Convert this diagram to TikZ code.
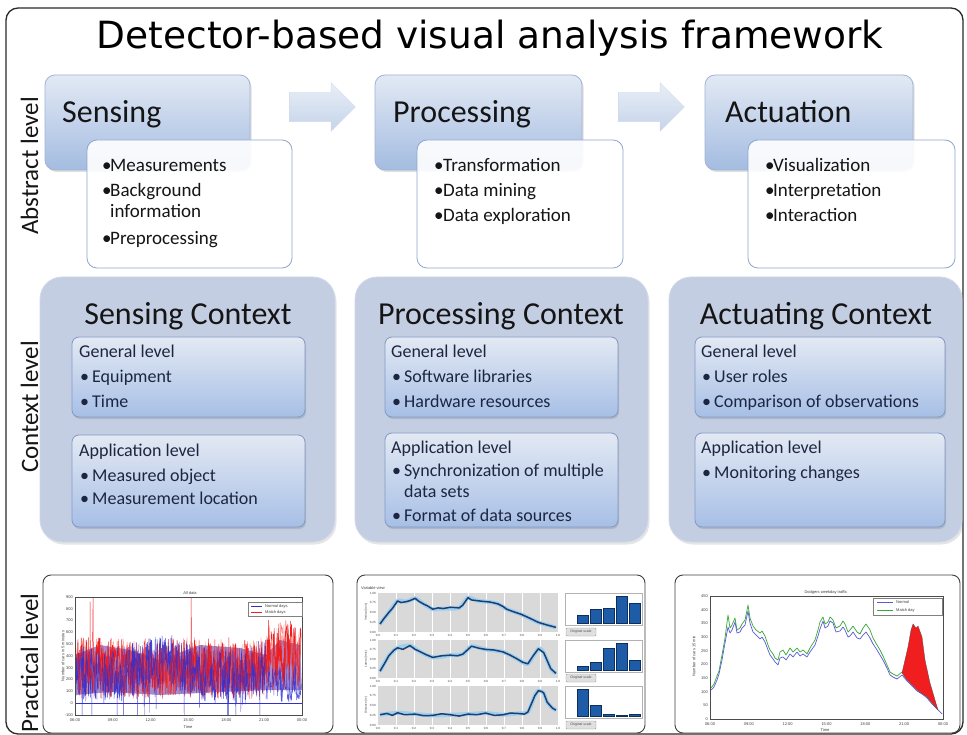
\documentclass[tikz,border=0pt]{standalone}
\usepackage{fontspec}
\setmainfont{Carlito}
\newfontfamily\plotfont{Liberation Sans}
\newfontfamily\titlefont{DejaVu Sans}
\usetikzlibrary{shapes.arrows,fit,shadows,calc}
\definecolor{absTop}{HTML}{E2E9F4}
\definecolor{absBot}{HTML}{A4BCE1}
\definecolor{absBorder}{HTML}{A2B5D4}
\definecolor{bulBorder}{HTML}{8FA7CE}
\definecolor{arrTop}{HTML}{E8EEF6}
\definecolor{arrBot}{HTML}{C5D4EA}
\definecolor{arrBorder}{HTML}{D0DBEB}
\definecolor{ctxFill}{HTML}{C4CEE3}
\definecolor{ctxBorder}{HTML}{D2D9E8}
\definecolor{subTop}{HTML}{E3E9F3}
\definecolor{subBot}{HTML}{A7BFE6}
\definecolor{subBorder}{HTML}{8199C2}
\definecolor{txtDark}{HTML}{151515}
\definecolor{txtNavy}{HTML}{1C2640}
\definecolor{frameCol}{HTML}{2A2A2A}
\definecolor{plotBlue}{HTML}{3030D0}
\definecolor{plotRed}{HTML}{F01E1E}
\definecolor{plotGreen}{HTML}{3AA63A}
\definecolor{panelGray}{HTML}{D9D9D9}
\definecolor{lineNavy}{HTML}{1E3F6E}
\definecolor{haloBlue}{HTML}{9CCFF0}
\definecolor{barBlue}{HTML}{1F5CA8}
\definecolor{barEdge}{HTML}{0E2E5C}
\tikzset{
  outerframe/.style={draw=frameCol, line width=1.3pt, rounded corners=12pt, fill=white, inner sep=0pt},
  absbox/.style={draw=absBorder, line width=0.8pt, rounded corners=10pt, top color=absTop, bottom color=absBot, inner sep=0pt,
     drop shadow={opacity=0.25, shadow xshift=1.5pt, shadow yshift=-2pt}},
  bulbox/.style={draw=bulBorder, line width=0.8pt, rounded corners=10pt, fill=white, fill opacity=0.9, inner sep=0pt},
  blockarrow/.style={single arrow, minimum height=66pt, inner xsep=0pt, inner ysep=14.5pt, single arrow head extend=9.5pt,
     top color=arrTop, bottom color=arrBot, draw=arrBorder, line width=0.4pt},
  ctxbox/.style={fill=ctxFill, draw=ctxBorder, line width=0.8pt, rounded corners=22pt, inner sep=0pt,
     drop shadow={opacity=0.2, shadow xshift=1.5pt, shadow yshift=-2.5pt}},
  subbox/.style={draw=subBorder, line width=0.8pt, rounded corners=7pt, top color=subTop, bottom color=subBot, inner sep=0pt,
     drop shadow={opacity=0.3, shadow xshift=1pt, shadow yshift=-2pt}},
  plotframe/.style={draw=black!75, line width=0.9pt, rounded corners=8pt, fill=white, inner sep=0pt},
  abstitle/.style={anchor=base west, inner sep=0pt, text=txtDark, font=\fontsize{32}{32}\selectfont},
  ctxtitle/.style={anchor=base, inner sep=0pt, text=txtDark, font=\fontsize{32}{32}\selectfont},
  bult/.style={anchor=base west, inner sep=0pt, text=txtDark, font=\fontsize{19}{19}\selectfont},
  subt/.style={anchor=base west, inner sep=0pt, text=txtNavy, font=\fontsize{18}{18}\selectfont},
  levellabel/.style={rotate=90, anchor=base, inner sep=0pt, text=txtDark, font=\fontsize{25}{25}\selectfont},
  ptext/.style={inner sep=0pt, text=black!75, font=\plotfont\fontsize{4}{4}\selectfont},
  ptiny/.style={inner sep=0pt, text=black!75, font=\plotfont\fontsize{3}{3}\selectfont},
  btn/.style={draw=black!40, fill=black!12, rounded corners=1pt, inner sep=0pt, minimum width=30pt, minimum height=8pt, text=black!70, font=\plotfont\fontsize{3.5}{3.5}\selectfont},
  halo/.style={haloBlue, line width=4pt, line join=round},
  navyline/.style={lineNavy, line width=1.5pt, line join=round},
  bar/.style={fill=barBlue, draw=barEdge, line width=0.3pt}
}
\begin{document}
\begin{tikzpicture}[x=1pt,y=-1pt]
\useasboundingbox (0,0) rectangle (967,735);
\pgfmathsetseed{11}
% outer frame
\node[outerframe, fit={(6,8)(963,734)}] (frame) {};
\node[anchor=base, inner sep=0pt, text=black, font=\titlefont\fontsize{37.5}{37.5}\selectfont] (title) at (490,49) {Detector-based visual analysis framework};
% level labels
\node[levellabel] (labA) at (38,166) {Abstract level};
\node[levellabel] (labC) at (38,407) {Context level};
\node[levellabel] (labP) at (38,663) {Practical level};

% ---------- abstract level ----------
\node[blockarrow] (arr1) at (315,107) {};
\node[blockarrow] (arr2) at (644,107) {};

\node[absbox, fit={(45,75)(250,170)}] (sens) {};
\node[abstitle] (sensT) at (62,123) {Sensing};
\node[bulbox, fit={(87,140)(292,268)}] (sensL) {};
\node[bult] (sb1) at (102,172) {•};
\node[bult] (st1) at (110,172) {Measurements};
\node[bult] (sb2) at (102,197) {•};
\node[bult] (st2) at (110,197) {Background};
\node[bult] (st3) at (110,218) {information};
\node[bult] (sb4) at (102,245) {•};
\node[bult] (st4) at (110,245) {Preprocessing};

\node[absbox, fit={(375,75)(582,170)}] (proc) {};
\node[abstitle] (procT) at (393,123) {Processing};
\node[bulbox, fit={(417,140)(623,268)}] (procL) {};
\node[bult] (pb1) at (434,172) {•};
\node[bult] (pt1) at (443,172) {Transformation};
\node[bult] (pb2) at (434,197) {•};
\node[bult] (pt2) at (443,197) {Data mining};
\node[bult] (pb3) at (434,222) {•};
\node[bult] (pt3) at (443,222) {Data exploration};

\node[absbox, fit={(705,75)(913,170)}] (act) {};
\node[abstitle] (actT) at (725,123) {Actuation};
\node[bulbox, fit={(748,140)(955,268)}] (actL) {};
\node[bult] (ab1) at (765,172) {•};
\node[bult] (at1) at (773,172) {Visualization};
\node[bult] (ab2) at (765,197) {•};
\node[bult] (at2) at (773,197) {Interpretation};
\node[bult] (ab3) at (765,222) {•};
\node[bult] (at3) at (773,222) {Interaction};

% ---------- context level ----------
\node[ctxbox, fit={(40,277)(335,542)}] (sctx) {};
\node[ctxtitle] (sctxT) at (188,325) {Sensing Context};
\node[subbox, fit={(72,337)(305,417)}] (sgen) {};
\node[subt] (sgT) at (79,358) {General level};
\node[subt] (sg1b) at (80,383) {•};
\node[subt] (sg1) at (92,383) {Equipment};
\node[subt] (sg2b) at (80,407) {•};
\node[subt] (sg2) at (92,407) {Time};
\node[subbox, fit={(72,435)(305,527)}] (sapp) {};
\node[subt] (saT) at (79,456) {Application level};
\node[subt] (sa1b) at (80,481) {•};
\node[subt] (sa1) at (92,481) {Measured object};
\node[subt] (sa2b) at (80,504) {•};
\node[subt] (sa2) at (92,504) {Measurement location};

\node[ctxbox, fit={(355,277)(648,542)}] (pctx) {};
\node[ctxtitle] (pctxT) at (501,325) {Processing Context};
\node[subbox, fit={(385,337)(618,417)}] (pgen) {};
\node[subt] (pgT) at (391,358) {General level};
\node[subt] (pg1b) at (392,382) {•};
\node[subt] (pg1) at (404,382) {Software libraries};
\node[subt] (pg2b) at (392,407) {•};
\node[subt] (pg2) at (404,407) {Hardware resources};
\node[subbox, fit={(385,433)(618,527)}] (papp) {};
\node[subt] (paT) at (391,453) {Application level};
\node[subt] (pa1b) at (392,476) {•};
\node[subt] (pa1) at (404,476) {Synchronization of multiple};
\node[subt] (pa2) at (404,497) {data sets};
\node[subt] (pa3b) at (392,521) {•};
\node[subt] (pa3) at (404,521) {Format of data sources};

\node[ctxbox, fit={(669,277)(962,542)}] (actx) {};
\node[ctxtitle] (actxT) at (816,325) {Actuating Context};
\node[subbox, fit={(695,337)(945,417)}] (agen) {};
\node[subt] (agT) at (701,358) {General level};
\node[subt] (ag1b) at (702,382) {•};
\node[subt] (ag1) at (714,382) {User roles};
\node[subt] (ag2b) at (702,407) {•};
\node[subt] (ag2) at (714,407) {Comparison of observations};
\node[subbox, fit={(695,433)(945,527)}] (aapp) {};
\node[subt] (aaT) at (701,453) {Application level};
\node[subt] (aa1b) at (702,478) {•};
\node[subt] (aa1) at (714,478) {Monitoring changes};

% ---------- practical level ----------
% plot 1
\node[plotframe, fit={(43,575)(333,733)}] (p1) {};
\node[ptext] (p1t) at (190,593) {All data};
\begin{scope}
\clip (75,597) rectangle (302,715);
\fill[plotBlue!75!plotRed, opacity=0.55] (75,655) -- (100,645) -- (130,650) -- (160,660) -- (200,645) -- (240,648) -- (266,655)
   -- (280,640) -- (300,645) -- (302,690) -- (266,690) -- (220,692) -- (160,695) -- (110,692) -- (75,695) -- cycle;
\draw[plotBlue, line width=0.5pt] (75,703) -- (302,703);
\draw[plotRed, line width=0.35pt] plot[domain=76:301, samples=800]
  (\x, {(\x<266)*(668+62*(rnd-0.5)-60*(rnd<0.008)) + (\x>=266)*(655+72*(rnd-0.5))});
\draw[plotBlue, line width=0.35pt, opacity=0.9] plot[domain=76:266, samples=800]
  (\x, {670+7*sin((\x-75)*3)+56*(rnd-0.5)+32*(rnd<0.04)});
\draw[plotBlue, line width=0.35pt, opacity=0.8] plot[domain=266:301, samples=90]
  (\x, {682+40*(rnd-0.5)});
\draw[plotRed, line width=0.3pt, opacity=0.6] plot[domain=76:301, samples=450]
  (\x, {(\x<266)*(668+55*(rnd-0.5)) + (\x>=266)*(652+60*(rnd-0.5))});
\end{scope}
\draw[black!70, line width=0.4pt] (75,597) rectangle (302,715);
\foreach \v [count=\k from 0] in {900,800,700,600,500,400,300,200,100,0,-100}
  \node[ptext, anchor=east] (p1y\k) at (73,{597+\k*11.8}) {\v};
\foreach \lab [count=\k from 0] in {06:00,09:00,12:00,15:00,18:00,21:00,00:00}
  \node[ptext] (p1x\k) at ({75+\k*227/6},720) {\lab};
\node[ptext] (p1xl) at (188,727) {Time};
\node[ptext, rotate=90] (p1yl) at (63,656) {Number of cars in 5 minutes};
\node[draw=black!50, fill=white, line width=0.3pt, inner sep=0pt, fit={(248,602)(302,616)}] (p1leg) {};
\draw[plotBlue, line width=0.6pt] (251,606) -- (262,606);
\node[ptext, anchor=west] (p1l1) at (265,606) {Normal days};
\draw[plotRed, line width=0.6pt] (251,612) -- (262,612);
\node[ptext, anchor=west] (p1l2) at (265,612) {Match days};

% plot 2
\node[plotframe, fit={(357,575)(645,733)}] (p2) {};
\node[ptext, anchor=west] (p2t) at (361,588) {Variable view};
\foreach \ptop/\pbot [count=\k] in {593/632,640/678,686/725} {
  \fill[panelGray] (378,\ptop) rectangle (558,\pbot);
  \foreach \g in {1,...,9} \draw[white, line width=0.3pt] ({378+\g*18},\ptop) -- ({378+\g*18},\pbot);
  \foreach \q [count=\j from 0] in {0.00,0.25,0.50,0.75,1.00}
    \node[ptiny, anchor=east] (p2y\k\j) at (376,{\pbot-\j*(\pbot-\ptop)/4}) {\q};
  \foreach \q [count=\j from 0] in {0.0,0.1,0.2,0.3,0.4,0.5,0.6,0.7,0.8,0.9,1.0}
    \node[ptiny] (p2x\k\j) at ({378+\j*18},{\pbot+3.5}) {\q};
  \fill[white] (565,\ptop) rectangle (642,{\ptop+32});
  \draw[black!30, line width=0.3pt] (565,\ptop) rectangle (642,{\ptop+32});
}
\node[ptiny, rotate=90] (p2l1) at (366,612) {Vertical (m/s)};
\node[ptiny, rotate=90] (p2l2) at (366,659) {Lateral (m/s)};
\node[ptiny, rotate=90] (p2l3) at (366,705) {Distance (m)};
\begin{scope}[shift={(380,629)}, x=176pt, y=33pt]
\draw[halo] plot[smooth, tension=0.4] coordinates {(0,0.15) (0.05,0.5) (0.1,0.85) (0.15,0.83) (0.2,0.93) (0.25,0.75) (0.3,0.6) (0.36,0.62) (0.45,0.64) (0.5,0.95) (0.55,0.86) (0.62,0.82) (0.67,0.76) (0.72,0.6) (0.8,0.45) (0.9,0.2) (1.0,0.05)};
\draw[navyline] plot coordinates {(0,0.15) (0.02,0.3) (0.05,0.5) (0.07,0.62) (0.1,0.85) (0.12,0.8) (0.15,0.83) (0.17,0.86) (0.2,0.93) (0.22,0.84) (0.25,0.75) (0.27,0.7) (0.3,0.6) (0.33,0.64) (0.36,0.62) (0.4,0.66) (0.45,0.64) (0.47,0.72) (0.5,0.95) (0.52,0.88) (0.55,0.86) (0.58,0.84) (0.62,0.82) (0.64,0.8) (0.67,0.76) (0.7,0.68) (0.72,0.6) (0.76,0.52) (0.8,0.45) (0.85,0.33) (0.9,0.2) (0.95,0.12) (1.0,0.05)};
\end{scope}
\begin{scope}[shift={(380,675)}, x=176pt, y=32pt]
\draw[halo] plot[smooth, tension=0.4] coordinates {(0,0.12) (0.05,0.6) (0.1,0.85) (0.17,0.92) (0.22,0.75) (0.3,0.55) (0.4,0.62) (0.47,0.65) (0.52,0.9) (0.6,0.8) (0.7,0.72) (0.78,0.5) (0.84,0.35) (0.9,0.82) (0.93,0.7) (0.97,0.2) (1.0,0.05)};
\draw[navyline] plot coordinates {(0,0.12) (0.03,0.4) (0.05,0.6) (0.08,0.78) (0.1,0.85) (0.13,0.8) (0.17,0.92) (0.2,0.8) (0.22,0.75) (0.26,0.64) (0.3,0.55) (0.35,0.6) (0.4,0.62) (0.44,0.6) (0.47,0.65) (0.5,0.8) (0.52,0.9) (0.56,0.84) (0.6,0.8) (0.65,0.78) (0.7,0.72) (0.74,0.62) (0.78,0.5) (0.81,0.4) (0.84,0.35) (0.87,0.6) (0.9,0.82) (0.93,0.7) (0.95,0.45) (0.97,0.2) (1.0,0.05)};
\end{scope}
\begin{scope}[shift={(380,722)}, x=176pt, y=33pt]
\draw[halo] plot[smooth, tension=0.4] coordinates {(0,0.22) (0.1,0.28) (0.2,0.24) (0.3,0.2) (0.4,0.22) (0.5,0.24) (0.6,0.27) (0.7,0.22) (0.78,0.26) (0.84,0.3) (0.88,0.8) (0.9,0.95) (0.93,0.88) (0.95,0.6) (0.98,0.42) (1.0,0.36)};
\draw[navyline] plot coordinates {(0,0.22) (0.04,0.26) (0.07,0.2) (0.1,0.28) (0.14,0.22) (0.2,0.24) (0.25,0.19) (0.3,0.2) (0.35,0.25) (0.4,0.22) (0.45,0.18) (0.5,0.24) (0.55,0.22) (0.6,0.27) (0.65,0.2) (0.7,0.22) (0.74,0.27) (0.78,0.26) (0.82,0.24) (0.84,0.3) (0.86,0.55) (0.88,0.8) (0.9,0.95) (0.92,0.92) (0.93,0.88) (0.95,0.6) (0.97,0.48) (0.98,0.42) (1.0,0.36)};
\end{scope}
% bar charts
\begin{scope}[shift={(576,623)}, x=13pt, y=27pt]
\foreach \h [count=\i from 0] in {0.3,0.5,0.55,1.0,0.75} \draw[bar] ({\i+0.08},0) rectangle ({\i+0.92},\h);
\end{scope}
\begin{scope}[shift={(576,670)}, x=13pt, y=27pt]
\foreach \h [count=\i from 0] in {0.15,0.3,0.8,1.0,0.35} \draw[bar] ({\i+0.08},0) rectangle ({\i+0.92},\h);
\end{scope}
\begin{scope}[shift={(576,716)}, x=13pt, y=27pt]
\foreach \h [count=\i from 0] in {1.0,0.42,0.08,0.03,0.08} \draw[bar] ({\i+0.08},0) rectangle ({\i+0.92},\h);
\end{scope}
\node[btn] (btn1) at (581,632) {Original scale};
\node[btn] (btn2) at (581,678) {Original scale};
\node[btn] (btn3) at (581,725) {Original scale};

% plot 3
\node[plotframe, fit={(675,575)(960,733)}] (p3) {};
\node[ptext] (p3t) at (826,592) {Dodgers weekday traffic};
\draw[black!70, line width=0.4pt] (710,596) rectangle (943,719);
\foreach \v [count=\k from 0] in {450,400,350,300,250,200,150,100,50,0}
  \node[ptext, anchor=east] (p3y\k) at (708,{596+\k*13.67}) {\v};
\foreach \lab [count=\k from 0] in {06:00,09:00,12:00,15:00,18:00,21:00,00:00}
  \node[ptext] (p3x\k) at ({710+\k*233/6},724) {\lab};
\node[ptext] (p3xl) at (825,730) {Time};
\node[ptext, rotate=90] (p3yl) at (694,656) {Number of cars 15 min};
\draw[plotGreen, line width=0.7pt, line join=round]
  (711,688) -- (714,684) -- (717,676) -- (719,671) -- (722,655) -- (725,638) -- (728,615) -- (730,628) -- (732,625) -- (735,618) -- (737,630) -- (740,628) -- (742,624) -- (745,620) -- (748,605) -- (750,618) -- (753,626) -- (756,630) -- (760,633) -- (762,631) -- (765,636) -- (768,645) -- (770,650) -- (773,654) -- (775,658) -- (778,660) -- (780,652) -- (783,650) -- (786,655) -- (790,648) -- (793,652) -- (797,648) -- (800,652) -- (803,650) -- (807,654) -- (810,648) -- (815,640) -- (818,630) -- (820,622) -- (823,617) -- (825,624) -- (828,622) -- (830,617) -- (833,620) -- (836,628) -- (840,626) -- (843,621) -- (845,624) -- (848,632) -- (850,630) -- (853,626) -- (857,632) -- (860,634) -- (863,628) -- (866,624) -- (870,630) -- (873,638) -- (877,645) -- (880,650) -- (883,656) -- (887,665) -- (890,672) -- (893,674) -- (897,676) -- (902,672);
\draw[plotBlue!80, line width=0.7pt, line join=round]
  (711,690) -- (714,687) -- (717,680) -- (719,674) -- (722,660) -- (725,643) -- (728,627) -- (730,633) -- (732,630) -- (735,622) -- (737,633) -- (740,632) -- (742,628) -- (745,625) -- (748,611) -- (750,623) -- (753,632) -- (756,635) -- (760,639) -- (762,637) -- (765,642) -- (768,650) -- (770,655) -- (773,659) -- (775,662) -- (778,665) -- (780,658) -- (783,657) -- (786,660) -- (790,654) -- (793,657) -- (797,652) -- (800,656) -- (803,654) -- (807,657) -- (810,652) -- (815,645) -- (818,636) -- (820,629) -- (823,621) -- (825,628) -- (828,626) -- (830,621) -- (833,623) -- (836,632) -- (840,631) -- (843,627) -- (845,630) -- (848,637) -- (850,636) -- (853,632) -- (857,638) -- (860,639) -- (863,635) -- (866,632) -- (870,638) -- (873,644) -- (877,650) -- (880,655) -- (883,660) -- (887,668) -- (890,675) -- (893,677) -- (897,679) -- (902,675) -- (907,681) -- (912,686) -- (917,691) -- (922,694) -- (927,698) -- (932,704) -- (937,709) -- (942,714);
\fill[plotRed, draw=black!70, line width=0.3pt] (902,673) -- (905,660) -- (908,647) -- (911,630) -- (913,624) -- (916,628) -- (918,626) -- (922,637) -- (925,660) -- (930,683) -- (935,700) -- (938,710) -- (927,697) -- (917,690) -- (907,680) -- cycle;
\node[draw=black!50, fill=white, line width=0.3pt, inner sep=0pt, fit={(873,598)(942,615)}] (p3leg) {};
\draw[plotBlue!80, line width=0.6pt] (877,602) -- (893,602);
\node[ptext, anchor=west] (p3l1) at (896,602) {Normal};
\draw[plotGreen, line width=0.6pt] (877,610) -- (893,610);
\node[ptext, anchor=west] (p3l2) at (896,610) {Match day};
\end{tikzpicture}
\end{document}
